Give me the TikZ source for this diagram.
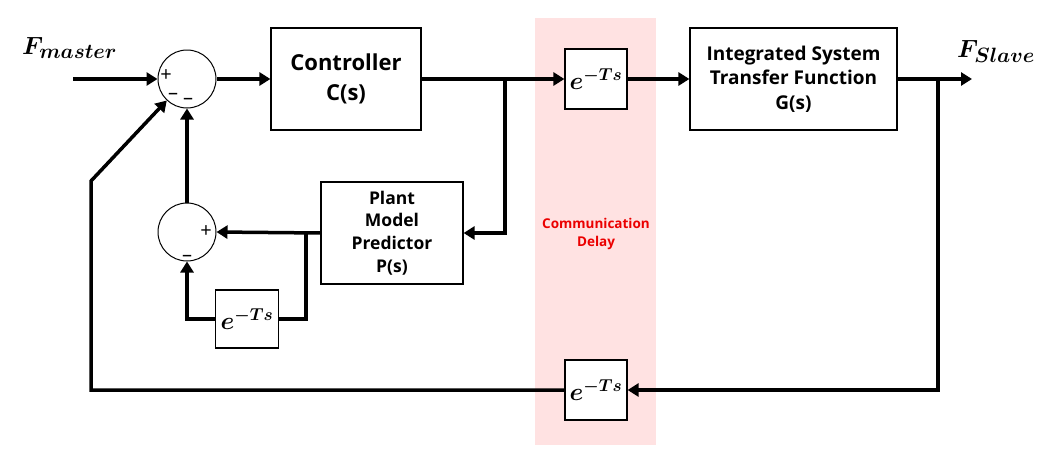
\documentclass[tikz,border=0pt]{standalone}
\usepackage{fontspec}
\setsansfont{Open Sans}
\usepackage{amsmath}
\usetikzlibrary{arrows.meta}
\definecolor{pinkbg}{RGB}{255,226,226}
\definecolor{delayred}{RGB}{235,0,0}
\begin{document}
\begin{tikzpicture}[x=1pt,y=-1pt,
  blk/.style={draw, line width=1.2pt, fill=white, inner sep=0pt, align=center},
  delaybox/.style={blk, minimum width=62, minimum height=60, font=\fontsize{23}{26}\selectfont\boldmath},
  sumc/.style={circle, draw, line width=1pt, minimum size=58, inner sep=0pt},
  sig/.style={line width=3.5pt},
  arr/.style={sig, -{Triangle[length=11pt,width=13pt]}},
  plus/.style={font=\sffamily\fontsize{20}{20}\selectfont, inner sep=0pt, anchor=base, text height=0.62em, text depth=0pt},
  minus/.style={font=\sffamily\fontsize{20}{20}\selectfont, inner sep=0pt, anchor=base, text height=0.4em, text depth=0pt}]
\useasboundingbox (0,0) rectangle (1055,458);
\fill[pinkbg] (535,18) rectangle (656,445);
\node[text=delayred, font=\sffamily\bfseries\fontsize{13.5}{18}\selectfont, align=center] (cd) at (596,234) {Communication\\Delay};
% blocks
\node[sumc] (s1) at (187,79) {};
\node[sumc] (s2) at (187,232) {};
\node[blk, minimum width=150, minimum height=102, font=\sffamily\bfseries\fontsize{22}{30}\selectfont] (ctrl) at (346,79) {Controller\\C(s)};
\node[delaybox] (d1) at (596,79) {$e^{-Ts}$};
\node[blk, minimum width=207, minimum height=102, font=\sffamily\bfseries\fontsize{19}{24.5}\selectfont] (integ) at (793.5,79) {Integrated System\\Transfer Function\\G(s)};
\node[blk, minimum width=142, minimum height=102, font=\sffamily\bfseries\fontsize{17.5}{22.7}\selectfont] (plant) at (392,233) {Plant\\Model\\Predictor\\P(s)};
\node[delaybox, minimum width=63, minimum height=58] (d2) at (247,319) {$e^{-Ts}$};
\node[delaybox] (d3) at (596,390) {$e^{-Ts}$};
% labels
\node[anchor=base west, inner sep=0pt, font=\fontsize{30}{34}\selectfont\boldmath] (fm) at (22,54) {$F_{master}$};
\node[anchor=base west, inner sep=0pt, font=\fontsize{30}{34}\selectfont\boldmath] (fs) at (957,57) {$F_{Slave}$};
\node[plus] (p1) at (166,81) {+};
\node[minus] (m1) at (173,99) {\textendash};
\node[minus] (m2) at (188,104) {\textendash};
\node[plus] (p2) at (206,237) {+};
\node[minus] (m3) at (187,261) {\textendash};
% coordinates
\coordinate (in) at (73,79);
\coordinate (out) at (972,79);
\coordinate (b1) at (505,79);
\coordinate (b2) at (938,79);
\coordinate (b3) at (306,233);
\coordinate (k) at (91,181);
% connectors
\draw[arr] (in) -- (s1);
\draw[arr] (s1) -- (ctrl);
\draw[arr] (ctrl) -- (d1);
\draw[arr] (d1) -- (integ);
\draw[arr] (integ) -- (out);
\draw[arr] (b1) |- (plant.east);
\draw[arr] (b2) |- (d3.east);
\draw[arr] (d3.west) -| (k) -- (s1);
\draw[arr] (plant.west) -- (s2.east);
\draw[sig] (b3) |- (d2.east);
\draw[arr] (d2.west) -| (s2.south);
\draw[arr] (s2) -- (s1);
\end{tikzpicture}
\end{document}
